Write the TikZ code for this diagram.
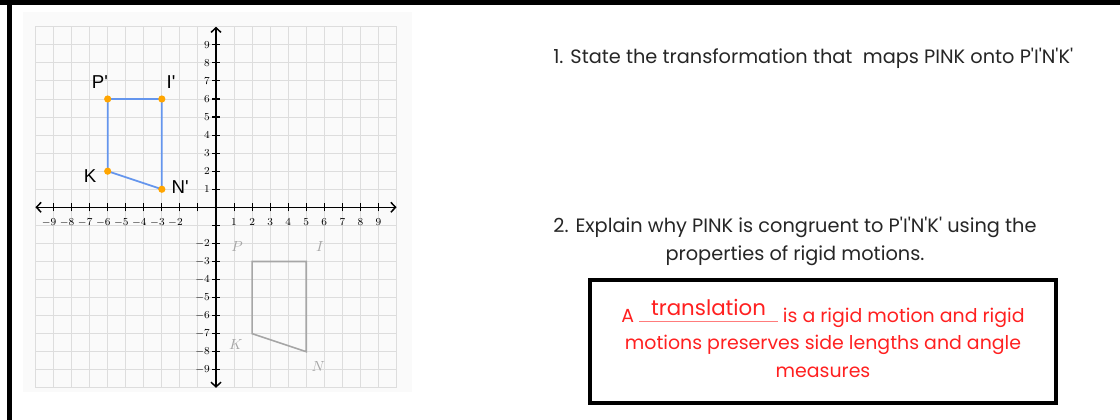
\documentclass[tikz,border=0pt]{standalone}
\usepackage{fontspec}
\usepackage{xcolor}
\usepackage{tikz}
\usetikzlibrary{arrows.meta, positioning}

\newfontfamily\gothicfont{Poppins}
\newfontfamily\arialfont{Liberation Sans}
\definecolor{sideblue}{RGB}{100,149,237}
\definecolor{dotorange}{RGB}{255,165,0}
\definecolor{answerred}{HTML}{FF2020}
\definecolor{blankred}{HTML}{FF7C7C}
\definecolor{gridgray}{HTML}{DDDDDD}
\definecolor{shapegray}{HTML}{A6A6A6}
\newcommand\apos{\textquotesingle}
\newcommand\blankfill[2]{\makebox[#1][c]{\raisebox{5.3pt}{\fontsize{16}{18}\selectfont #2}}\llap{\textcolor{blankred}{\rule[-0.2pt]{#1}{0.9pt}}}}

\begin{document}
\begin{tikzpicture}[
  x=0.75pt, y=-0.75pt,
  frameline/.style={line width=3.4pt},
  gridline/.style={gridgray, line width=0.7pt},
  axisline/.style={line width=1.1pt, {Straight Barb[length=3.5pt,width=7.5pt]}-{Straight Barb[length=3.5pt,width=7.5pt]}},
  ticknum/.style={inner sep=0pt, font=\fontsize{8.5}{9}\selectfont},
  ptlabel/.style={inner sep=0pt, font=\arialfont\fontsize{14}{16}\selectfont},
  oldlabel/.style={inner sep=0pt, text=shapegray, font=\fontsize{11}{12}\selectfont},
  dot/.style={circle, fill=dotorange, inner sep=0pt, minimum size=5.4pt},
  question/.style={inner sep=0pt, text=black!85, font=\gothicfont\fontsize{14.5}{21}\selectfont},
  answerframe/.style={draw, line width=3.4pt, minimum width=349.5pt, minimum height=92.25pt},
  answer/.style={inner sep=0pt, text=answerred, align=center, font=\gothicfont\fontsize{14.2}{20.6}\selectfont}
]
\useasboundingbox (0,0) rectangle (1120,420);

% outer frame
\draw[frameline] (0,2.5) -- (1120,2.5);
\draw[frameline] (9.5,0) -- (9.5,420);

% graph panel
\fill[black!2] (23,12) rectangle (412,392);

\begin{scope}[shift={(216,207.3)}, x=13.54pt, y=13.54pt]
  % grid
  \foreach \i in {-10,...,10} {
    \draw[gridline] (\i,-10) -- (\i,10);
    \draw[gridline] (-10,\i) -- (10,\i);
  }
  % axes
  \draw[axisline] (-10,0) -- (10,0);
  \draw[axisline] (0,-10) -- (0,10);
  \foreach \i in {-9,...,-1,1,2,...,9} {
    \draw[line width=0.8pt] (\i,-0.22) -- (\i,0.22);
    \draw[line width=0.8pt] (-0.22,\i) -- (0.22,\i);
  }
  \foreach \i in {-9,...,-2}
    \node[ticknum, anchor=north] (xnum\i) at (\i,-0.6) {\makebox[0pt][r]{$-$}$\the\numexpr-\i\relax$};
  \foreach \i in {1,...,9}
    \node[ticknum, anchor=north] (xnum\i) at (\i,-0.6) {$\i$};
  \foreach \i in {-9,...,-2,1,2,...,9}
    \node[ticknum, anchor=east] (ynum\i) at (-0.33,\i) {$\i$};

  % image P'I'N'K
  \coordinate (Pp) at (-6,6);
  \coordinate (Ip) at (-3,6);
  \coordinate (Np) at (-3,1);
  \coordinate (Kp) at (-6,2);
  \draw[sideblue, line width=1.3pt] (Pp) -- (Ip) -- (Np) -- (Kp) -- cycle;
  \foreach \v in {Pp,Ip,Np,Kp}
    \node[dot] (dot\v) at (\v) {};
  \node[ptlabel] (labPp) at (-6.43,6.96) {P\apos};
  \node[ptlabel] (labIp) at (-2.49,6.96) {I\apos};
  \node[ptlabel] (labKp) at (-6.98,1.75) {K};
  \node[ptlabel] (labNp) at (-1.99,1.14) {N\apos};

  % pre-image PINK
  \coordinate (P) at (2,-3);
  \coordinate (I) at (5,-3);
  \coordinate (N) at (5,-8);
  \coordinate (K) at (2,-7);
  \draw[shapegray, line width=1.2pt] (P) -- (I) -- (N) -- (K) -- cycle;
  \node[oldlabel] (labP) at (1.17,-2.18) {$P$};
  \node[oldlabel] (labI) at (5.76,-2.18) {$I$};
  \node[oldlabel] (labK) at (1.1,-7.59) {$K$};
  \node[oldlabel] (labN) at (5.67,-8.83) {$N$};
\end{scope}

% questions
\node[question, anchor=base west] (quest1) at (553,64)
  {1. State the transformation that \ maps PINK onto P\apos I\apos N\apos K\apos};
\node[question, align=center, anchor=base] (quest2) at (795,261)
  {2. Explain why PINK is congruent to P\apos I\apos N\apos K\apos{} using the\\properties of rigid motions.};

% answer
\node[answerframe] (frame) at (823,341.5) {};
\node[answer, anchor=base] (answer) at (823,377)
  {A \blankfill{104pt}{translation} is a rigid motion and rigid\\
   motions preserves side lengths and angle\\
   measures};
\end{tikzpicture}
\end{document}
